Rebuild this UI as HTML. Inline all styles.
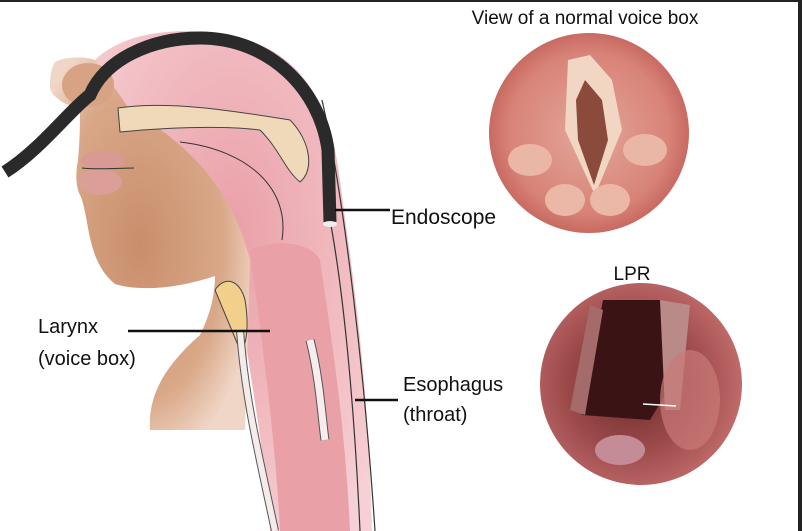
<!DOCTYPE html>
<html><head><meta charset="utf-8"><style>
html,body{margin:0;padding:0;background:#fff;}
svg{display:block;}
text{font-family:"Liberation Sans",Arial,sans-serif;fill:#111;}
</style></head><body>
<svg width="802" height="531" viewBox="0 0 802 531" xmlns="http://www.w3.org/2000/svg">
<defs>
<radialGradient id="skin" cx="0.45" cy="0.5" r="0.6"><stop offset="0" stop-color="#c98e6c"/><stop offset="0.7" stop-color="#d9a888"/><stop offset="1" stop-color="#f0d6c6"/></radialGradient>
<radialGradient id="pinkg" cx="0.5" cy="0.4" r="0.7"><stop offset="0" stop-color="#eaa0a8"/><stop offset="1" stop-color="#f6d0d4"/></radialGradient>
<radialGradient id="c1" cx="0.5" cy="0.5" r="0.5"><stop offset="0" stop-color="#e4a79a"/><stop offset="0.8" stop-color="#d88378"/><stop offset="1" stop-color="#c86a62"/></radialGradient>
<radialGradient id="c2" cx="0.45" cy="0.5" r="0.55"><stop offset="0" stop-color="#6a2a2a"/><stop offset="0.6" stop-color="#9c4a4a"/><stop offset="1" stop-color="#c06a6a"/></radialGradient>
</defs>
<rect x="0" y="0" width="802" height="2" fill="#222"/>
<rect x="798" y="0" width="4" height="531" fill="#222"/>
<!-- pink head interior -->
<path d="M95,60 C120,35 170,25 230,35 C300,50 330,100 340,180 C350,260 368,360 372,531 L270,531 C265,450 250,380 240,300 C230,230 180,160 110,130 Z" fill="url(#pinkg)"/>
<!-- face skin -->
<path d="M55,62 C62,58 80,55 95,60 L130,110 C200,150 235,200 250,260 L245,430 L150,430 C148,400 160,370 200,335 C210,315 215,295 215,276 C180,288 140,292 115,284 C98,270 92,250 88,228 C85,210 82,198 80,195 C75,185 76,170 78,160 C80,140 80,120 80,110 C65,105 48,95 50,85 C50,75 52,66 55,62 Z" fill="url(#skin)"/>
<!-- pink throat column -->
<path d="M250,250 C270,240 310,240 320,260 C330,330 345,420 350,531 L280,531 C275,430 260,330 250,250 Z" fill="#e9a0a6"/>
<!-- nose -->
<ellipse cx="88" cy="85" rx="26" ry="22" fill="#d8a384"/>
<!-- lips -->
<ellipse cx="103" cy="160" rx="22" ry="9" fill="#d99a95"/>
<ellipse cx="100" cy="182" rx="22" ry="13" fill="#dc9f98"/>
<path d="M82,168 C100,170 120,168 134,168" stroke="#333" fill="none"/>
<!-- palate -->
<path d="M118,108 C170,100 240,112 290,120 C310,140 315,170 300,182 C285,170 280,150 260,130 C220,125 160,128 120,132 Z" fill="#efd9b8" stroke="#444" stroke-width="1"/>
<path d="M180,142 C250,150 290,190 282,240" fill="none" stroke="#333" stroke-width="1"/>
<!-- larynx structures -->
<path d="M215,290 C225,275 240,280 245,300 C250,330 245,350 240,350 Z" fill="#f0d08a" stroke="#444"/>
<path d="M240,330 C245,400 260,460 275,531" fill="none" stroke="#555" stroke-width="8"/>
<path d="M240,330 C245,400 260,460 275,531" fill="none" stroke="#f4ecea" stroke-width="6"/>
<path d="M310,340 C320,380 322,420 325,440" fill="none" stroke="#555" stroke-width="9"/>
<path d="M310,340 C320,380 322,420 325,440" fill="none" stroke="#f6eeee" stroke-width="7"/>
<path d="M330,220 C345,300 355,420 360,531" fill="none" stroke="#333" stroke-width="1.2"/>
<path d="M322,100 C345,200 365,380 375,531" fill="none" stroke="#333" stroke-width="1.2"/>
<!-- endoscope -->
<path d="M5,172 C40,150 70,110 90,95 C105,60 150,38 200,38 C270,38 320,90 328,150 L330,222" fill="none" stroke="#2a2a2a" stroke-width="13"/>
<ellipse cx="330" cy="224" rx="7" ry="3" fill="#eee"/>
<!-- labels -->
<line x1="335" y1="210" x2="390" y2="210" stroke="#111" stroke-width="2.5"/>
<text x="391" y="224" font-size="21">Endoscope</text>
<line x1="128" y1="331" x2="270" y2="331" stroke="#111" stroke-width="2.5"/>
<text x="38" y="333" font-size="20">Larynx</text>
<text x="38" y="365" font-size="20">(voice box)</text>
<line x1="355" y1="400" x2="398" y2="400" stroke="#111" stroke-width="2.5"/>
<text x="403" y="391" font-size="20">Esophagus</text>
<text x="403" y="421" font-size="20">(throat)</text>
<text x="585" y="24" font-size="19" text-anchor="middle">View of a normal voice box</text>
<text x="632" y="280" font-size="19" text-anchor="middle">LPR</text>
<!-- circle 1 -->
<circle cx="589" cy="133" r="100" fill="url(#c1)"/>
<path d="M568,60 L590,55 L612,80 L622,130 L595,195 L565,130 Z" fill="#f1d6c3"/>
<path d="M585,80 L602,100 L608,140 L594,185 L578,140 L576,100 Z" fill="#8a4a3c"/>
<ellipse cx="530" cy="160" rx="22" ry="16" fill="#eab6a6"/>
<ellipse cx="645" cy="150" rx="22" ry="16" fill="#eab6a6"/>
<ellipse cx="565" cy="200" rx="20" ry="16" fill="#ebb8a8"/>
<ellipse cx="610" cy="200" rx="20" ry="16" fill="#ebb8a8"/>
<!-- circle 2 -->
<circle cx="641" cy="384" r="101" fill="url(#c2)"/>
<path d="M603,300 L660,300 L668,390 L650,420 L582,415 Z" fill="#3a1414"/>
<path d="M660,300 L690,305 L680,410 L665,410 Z" fill="#b98a88"/>
<path d="M590,305 L570,410 L585,415 L603,310 Z" fill="#a56a6a"/>
<ellipse cx="690" cy="400" rx="30" ry="50" fill="#c97a78" opacity="0.7"/>
<line x1="643" y1="404" x2="676" y2="406" stroke="#fff" stroke-width="1.5"/>
<ellipse cx="620" cy="450" rx="25" ry="15" fill="#c48c96"/>
</svg>
</body></html>
